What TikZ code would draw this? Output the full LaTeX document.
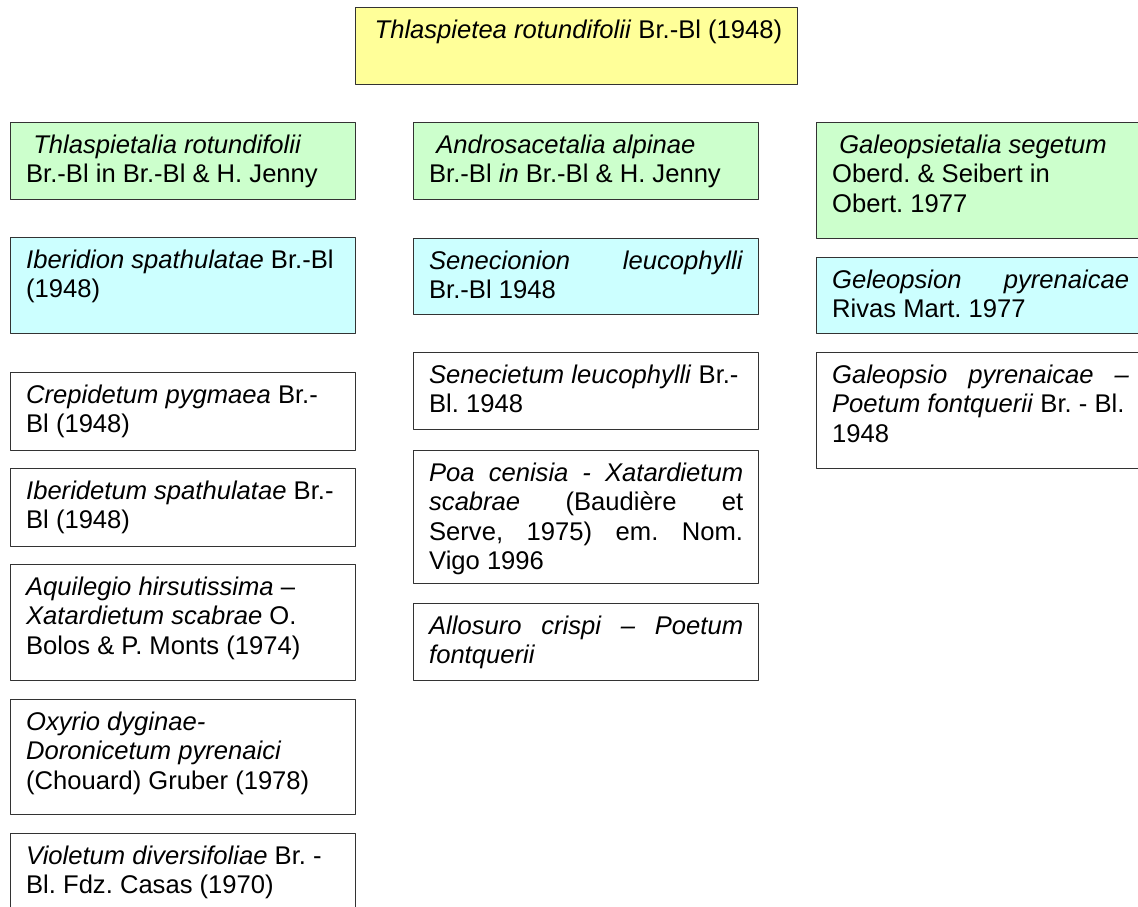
\documentclass[tikz,border=0pt]{standalone}
\usepackage{fontspec}
\setmainfont{Liberation Sans}
\frenchspacing
\definecolor{classfill}{RGB}{255,255,153}
\definecolor{orderfill}{RGB}{204,255,204}
\definecolor{alliancefill}{RGB}{204,255,255}
\colorlet{boxline}{black!80}
\newcommand{\spreadline}[1]{\makebox[\linewidth][s]{#1}}

\begin{document}
\begin{tikzpicture}[x=1pt, y=-1pt, line join=round,
  taxon/.style 2 args={draw=boxline, line width=1.3pt, anchor=north west,
    inner xsep=15.5pt, inner ysep=0pt,
    font=\fontsize{25.6pt}{29.5pt}\selectfont,
    execute at begin node={\begin{minipage}[t][#1][t]{#2}\vspace*{10pt}\raggedright\frenchspacing\strut},
    execute at end node={\end{minipage}}},
  tb/.style={taxon={#1}{314pt}},
  tc/.style={taxon={#1}{297pt}}]
  \useasboundingbox (0,0) rectangle (1138,907);
  \fill[white] (0,0) rectangle (1138,907);
  \clip (0,0) rectangle (1138,907);
  % class
  \node[taxon={77pt}{404pt}, inner xsep=19pt, fill=classfill] (class) at (355,7)
    {\mbox{\textit{Thlaspietea rotundifolii} Br.-Bl (1948)}};
  % first column
  \node[tb=77pt, fill=orderfill] (ordThl) at (10,122)
    {\hspace*{.28em}\textit{Thlaspietalia rotundifolii}\newline Br.-Bl in Br.-Bl \& H. Jenny};
  \node[tb=96pt, fill=alliancefill] (allIbe) at (10,237)
    {\textit{Iberidion spathulatae} Br.-Bl\newline (1948)};
  \node[tb=78pt] (assCre) at (10,372)
    {\textit{Crepidetum pygmaea} Br.-\newline Bl (1948)};
  \node[tb=78pt] (assIbe) at (10,468)
    {\textit{Iberidetum spathulatae} Br.-\newline Bl (1948)};
  \node[tb=116pt] (assAqu) at (10,564)
    {\textit{Aquilegio hirsutissima} –\newline \textit{Xatardietum scabrae} O.\newline Bolos \& P. Monts (1974)};
  \node[tb=115pt] (assOxy) at (10,699)
    {\textit{Oxyrio dyginae-}\newline \textit{Doronicetum pyrenaici}\newline (Chouard) Gruber (1978)};
  \node[tb=77pt] (assVio) at (10,833)
    {\textit{Violetum diversifoliae} Br. -\newline Bl. Fdz. Casas (1970)};
  % second column
  \node[tb=77pt, fill=orderfill] (ordAnd) at (413,122)
    {\hspace*{.28em}\textit{Androsacetalia alpinae}\newline Br.-Bl \textit{in} Br.-Bl \& H. Jenny};
  \node[tb=76pt, fill=alliancefill] (allSen) at (413,238)
    {\spreadline{\textit{Senecionion} \textit{leucophylli}}\newline Br.-Bl 1948};
  \node[tb=77pt] (assSen) at (413,352)
    {\textit{Senecietum leucophylli} Br.-\newline Bl. 1948};
  \node[tb=133pt] (assPoa) at (413,450)
    {\spreadline{\textit{Poa cenisia - Xatardietum}}\newline
     \spreadline{\textit{scabrae} (Baudière et}\newline
     \spreadline{Serve, 1975) em. Nom.}\newline Vigo 1996};
  \node[tb=77pt] (assAll) at (413,603)
    {\spreadline{\textit{Allosuro crispi – Poetum}}\newline \textit{fontquerii}};
  % third column
  \node[tc=116pt, fill=orderfill] (ordGal) at (816,122)
    {\hspace*{.28em}\textit{Galeopsietalia segetum}\newline Oberd. \& Seibert in\newline Obert. 1977};
  \node[tc=76pt, fill=alliancefill] (allGal) at (816,257)
    {\spreadline{\textit{Geleopsion} \textit{pyrenaicae}}\newline Rivas Mart. 1977};
  \node[tc=116pt] (assGal) at (816,352)
    {\spreadline{\textit{Galeopsio pyrenaicae –}}\newline \textit{Poetum fontquerii} Br. - Bl.\newline 1948};
\end{tikzpicture}
\end{document}
